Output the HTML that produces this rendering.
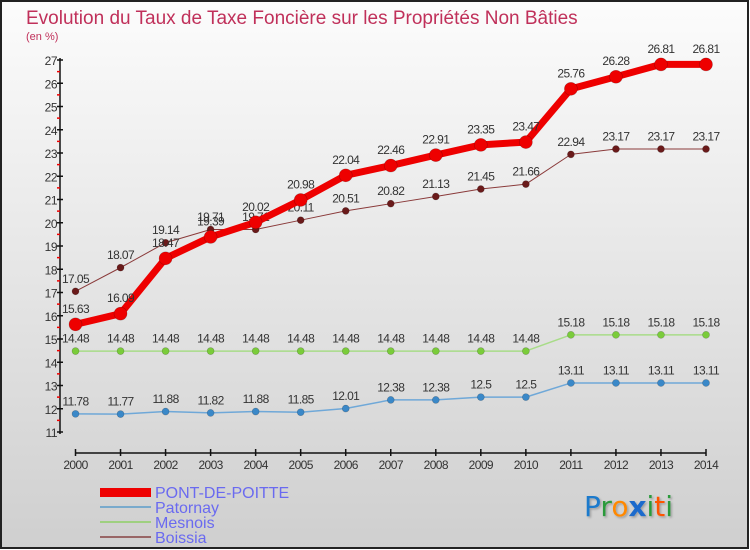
<!DOCTYPE html>
<html><head><meta charset="utf-8"><style>
body{margin:0;padding:0}
#c{width:750px;height:550px;position:relative;overflow:hidden}
</style></head><body>
<div id="c">
<svg id="s" width="750" height="550" xmlns="http://www.w3.org/2000/svg" font-family="'Liberation Sans', sans-serif">
<defs>
<linearGradient id="bg" x1="0" y1="0" x2="0" y2="1">
<stop offset="0" stop-color="#fcfcfc"/><stop offset="1" stop-color="#cfcfcf"/>
</linearGradient>
<filter id="sh"><feDropShadow dx="1.5" dy="1.5" stdDeviation="1" flood-color="#000" flood-opacity="0.25"/></filter>
</defs>
<rect x="1" y="1" width="747" height="547" fill="url(#bg)" stroke="#222" stroke-width="2"/>
<text x="26" y="24" font-size="19" fill="#c0305a">Evolution du Taux de Taxe Foncière sur les Propriétés Non Bâties</text>
<text x="26" y="40" font-size="11" fill="#c0305a">(en %)</text>
<g id="axes"></g>
<g id="series"></g>
<g>
<rect x="100" y="488" width="51" height="9" fill="#ee0000"/>
<text x="155" y="498" font-size="16" fill="#6a6af0">PONT-DE-POITTE</text>
<rect x="100" y="506" width="51" height="2" fill="#79aacc"/>
<text x="155" y="513" font-size="16" fill="#6a6af0">Patornay</text>
<rect x="100" y="521" width="51" height="2" fill="#9fd080"/>
<text x="155" y="528" font-size="16" fill="#6a6af0">Mesnois</text>
<rect x="100" y="536" width="51" height="2" fill="#996666"/>
<text x="155" y="543" font-size="16" fill="#6a6af0">Boissia</text>
</g>
<g filter="url(#sh)" font-family="'DejaVu Sans', sans-serif" font-size="28">
<text x="584" y="516"><tspan fill="#1a7acc">P</tspan><tspan fill="#2a9a3a">r</tspan><tspan fill="#ff8800">o</tspan><tspan fill="#1a6acc" font-weight="bold">x</tspan><tspan fill="#2a9a3a">i</tspan><tspan fill="#ff5500">t</tspan><tspan fill="#2a9a3a">i</tspan></text>
</g>
</svg>
</div>
<script>
const years = [2000,2001,2002,2003,2004,2005,2006,2007,2008,2009,2010,2011,2012,2013,2014];
const pontDePoitte = [15.63,16.09,18.47,19.39,20.02,20.98,22.04,22.46,22.91,23.35,23.47,25.76,26.28,26.81,26.81];
const patornay = [11.78,11.77,11.88,11.82,11.88,11.85,12.01,12.38,12.38,12.5,12.5,13.11,13.11,13.11,13.11];
const mesnois = [14.48,14.48,14.48,14.48,14.48,14.48,14.48,14.48,14.48,14.48,14.48,15.18,15.18,15.18,15.18];
const boissia = [17.05,18.07,19.14,19.71,19.71,20.11,20.51,20.82,21.13,21.45,21.66,22.94,23.17,23.17,23.17];
const yTicks = [11,12,13,14,15,16,17,18,19,20,21,22,23,24,25,26,27];

const NS="http://www.w3.org/2000/svg";
const X0=75.5, X1=706, YMIN=11, YMAX=27, PY0=432, PY1=60, AXX=60, AXY=453;
function xs(i){return X0+(X1-X0)*i/(years.length-1);}
function ys(v){return PY0-(v-YMIN)*(PY0-PY1)/(YMAX-YMIN);}
function mk(tag,attrs,parent){const e=document.createElementNS(NS,tag);for(const k in attrs)e.setAttribute(k,attrs[k]);parent.appendChild(e);return e;}
const ax=document.getElementById('axes');
let l=mk('line',{x1:AXX,y1:PY1-2,x2:AXX,y2:PY0+2,stroke:'#111','stroke-width':1.5},ax);


yTicks.forEach(v=>{
  const y=ys(v);
  const t=mk('line',{x1:AXX-3,y1:y,x2:AXX+3,y2:y,stroke:'#111','stroke-width':1.5},ax);
  
  
  if(v<YMAX){const m=mk('line',{x1:AXX-3,y1:ys(v+0.5),x2:AXX,y2:ys(v+0.5),stroke:'#e00','stroke-width':1.5},ax);
  
  }
  const tx=mk('text',{x:AXX-3,y:y+5,'text-anchor':'end','font-size':12,fill:'#333','letter-spacing':'-0.5'},ax);
  tx.textContent=v;
  
  
});
l=mk('line',{x1:X0,y1:AXY,x2:X1,y2:AXY,stroke:'#111','stroke-width':1.5},ax);


years.forEach((yr,i)=>{
  const x=xs(i);
  const t=mk('line',{x1:x,y1:AXY-4,x2:x,y2:AXY+3,stroke:'#111','stroke-width':1.5},ax);
  
  
  const tx=mk('text',{x:x,y:AXY+16,'text-anchor':'middle','font-size':12,fill:'#333','letter-spacing':'-0.6'},ax);
  tx.textContent=yr;
  
  
});
const sg=document.getElementById('series');
function draw(name,vals,color,dot,w,r,lblColor){
  const g=mk('g',{},sg);
  
  
  const p=mk('polyline',{points:vals.map((v,i)=>xs(i)+','+ys(v)).join(' '),fill:'none',stroke:color,'stroke-width':w,'stroke-linejoin':'round'},g);
  
  
  vals.forEach((v,i)=>{
    const c=mk('circle',{cx:xs(i),cy:ys(v),r:r,fill:dot,stroke:'rgba(0,0,0,0.25)','stroke-width':0.6},g);
    
    
    const t=mk('text',{x:xs(i),y:ys(v)-r-5,'text-anchor':'middle','font-size':12,fill:'#333','letter-spacing':'-0.6'},g);
    t.textContent=String(v);
    
    
  });
}
draw('patornay',patornay,'#6fa8d8','#3a88c8',1.5,3.5);
draw('mesnois',mesnois,'#a8dc88','#7acc3a',1.5,3.5);
draw('boissia',boissia,'#8a3a3a','#6a1a1a',1,3.5);
draw('pont-de-poitte',pontDePoitte,'#ee0000','#ee0000',7,6.5);
</script>
</body></html>
